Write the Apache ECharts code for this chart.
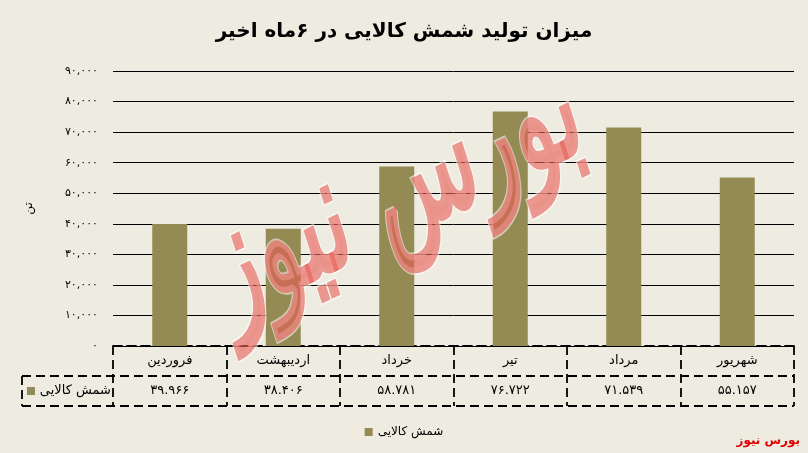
<!DOCTYPE html>
<html>
<head>
<meta charset="utf-8">
<script src="https://cdn.jsdelivr.net/npm/echarts@6/dist/echarts.min.js"></script>
<style>
  html, body { margin: 0; padding: 0; background: #EEECE1; }
  #chart { width: 808px; height: 453px; }
</style>
</head>
<body>
<div id="chart"></div>
<script>
// Monthly production of gold bullion (tonnes), last six months
const months = ['فروردین', 'اردیبهشت', 'خرداد', 'تیر', 'مرداد', 'شهریور'];
const seriesName = 'شمش کالایی';
const values = [39966, 38406, 58781, 76722, 71539, 55157];
const yMax = 90000;
const yStep = 10000;

const FONT = '"DejaVu Sans", "Noto Sans", sans-serif';
const BAR = '#948A54';

// Persian digits with a chosen thousands separator
function fa(n, sep) {
  const s = String(Math.round(n)).replace(/\B(?=(\d{3})+(?!\d))/g, sep);
  return s.replace(/\d/g, d => '۰۱۲۳۴۵۶۷۸۹'[d]);
}

// Plot rectangle
const W = 808, H = 453;
const gL = 113, gR = 14, gT = 71, gB = 107;
const axisY = H - gB;          // top of data table
const rowH = 30;               // table row height
const tableLeft = 22;
const xRight = W - gR;

const dash = { stroke: '#000', lineWidth: 1.8, lineDash: [9, 5] };

const chart = echarts.init(document.getElementById('chart'));
chart.setOption({
  backgroundColor: '#EEECE1',
  animation: false,
  title: {
    text: 'میزان تولید شمش کالایی در ۶ماه اخیر',
    left: 'center',
    top: 17,
    textStyle: { fontFamily: FONT, fontSize: 20, fontWeight: 'bold', color: '#000' }
  },
  legend: {
    data: [seriesName],
    bottom: 10,
    left: 'center',
    icon: 'rect',
    itemWidth: 8,
    itemHeight: 8,
    itemGap: 6,
    textStyle: { fontFamily: FONT, fontSize: 12, color: '#000' }
  },
  grid: { left: gL, right: gR, top: gT, bottom: gB, containLabel: false },
  xAxis: {
    type: 'category',
    data: months,
    axisLine: { show: true, lineStyle: { color: '#000', width: 1.8, type: [9, 5] } },
    axisTick: { show: true, length: rowH * 2, lineStyle: { color: '#000', width: 1.8, type: [9, 5] } },
    axisLabel: {
      margin: 0,
      interval: 0,
      formatter: (name, i) => '{n|' + name + '}\n{v|' + fa(values[i], '.') + '}',
      rich: {
        n: { fontFamily: FONT, fontSize: 13, lineHeight: rowH, color: '#000' },
        v: { fontFamily: FONT, fontSize: 13, lineHeight: rowH, color: '#000' }
      }
    }
  },
  yAxis: {
    type: 'value',
    min: 0,
    max: yMax,
    interval: yStep,
    name: 'تن',
    nameLocation: 'middle',
    nameRotate: 90,
    nameGap: 78,
    nameTextStyle: { fontFamily: FONT, fontSize: 12, color: '#000' },
    axisLine: { show: false },
    axisTick: { show: false },
    axisLabel: {
      margin: 15,
      fontFamily: FONT,
      fontSize: 11,
      color: '#000',
      formatter: v => fa(v, ',')
    },
    splitLine: { show: true, lineStyle: { color: '#000', width: 1 } }
  },
  series: [{
    name: seriesName,
    type: 'bar',
    data: values,
    barWidth: 35,
    itemStyle: { color: BAR }
  }],
  graphic: [
    // remaining dashed table borders
    { type: 'line', shape: { x1: tableLeft, y1: axisY + rowH, x2: xRight, y2: axisY + rowH }, style: dash, silent: true },
    { type: 'line', shape: { x1: tableLeft, y1: axisY + rowH * 2, x2: xRight, y2: axisY + rowH * 2 }, style: dash, silent: true },
    { type: 'line', shape: { x1: tableLeft, y1: axisY + rowH, x2: tableLeft, y2: axisY + rowH * 2 }, style: dash, silent: true },
    // legend key inside the table
    { type: 'rect', shape: { x: tableLeft + 5, y: axisY + rowH * 1.5 - 4, width: 8, height: 8 }, style: { fill: BAR }, silent: true },
    {
      type: 'text', x: gL - 2, y: axisY + rowH * 1.5,
      style: { text: seriesName, font: '13px ' + FONT, fill: '#000', align: 'right', verticalAlign: 'middle' },
      silent: true
    },
    // watermark
    {
      type: 'text', x: 392, y: 196, rotation: 0.45, scaleY: 1.75, z: 100,
      style: {
        text: 'بورس نیوز',
        font: 'bold italic 90px ' + FONT,
        fill: 'rgba(228,96,86,0.64)',
        stroke: 'rgba(255,255,255,0.55)',
        lineWidth: 2,
        align: 'center',
        verticalAlign: 'middle'
      },
      silent: true
    },
    // corner signature
    {
      type: 'text', right: 8, bottom: 6,
      style: { text: 'بورس نیوز', font: 'bold 12px ' + FONT, fill: '#E00000' },
      silent: true
    }
  ]
});
</script>
</body>
</html>
